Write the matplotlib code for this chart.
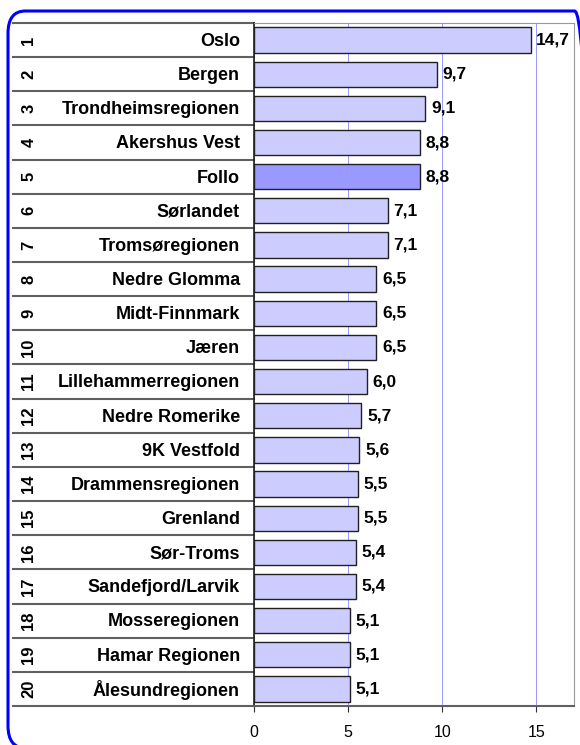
import matplotlib.pyplot as plt
from matplotlib.patches import FancyBboxPatch
from matplotlib.transforms import blended_transform_factory

plt.rcParams['font.family'] = ['Liberation Sans', 'DejaVu Sans']

ranks = [str(i) for i in range(1, 21)]
regions = ["Oslo", "Bergen", "Trondheimsregionen", "Akershus Vest", "Follo",
           "Sørlandet", "Tromsøregionen", "Nedre Glomma", "Midt-Finnmark", "Jæren",
           "Lillehammerregionen", "Nedre Romerike", "9K Vestfold", "Drammensregionen",
           "Grenland", "Sør-Troms", "Sandefjord/Larvik", "Mosseregionen",
           "Hamar Regionen", "Ålesundregionen"]
values = [14.7, 9.7, 9.1, 8.8, 8.8, 7.1, 7.1, 6.5, 6.5, 6.5,
          6.0, 5.7, 5.6, 5.5, 5.5, 5.4, 5.4, 5.1, 5.1, 5.1]
highlight = "Follo"
xticks = [0, 5, 10, 15]

W, H = 580, 745
fig = plt.figure(figsize=(W / 100, H / 100), dpi=100)

# rounded blue frame, right and bottom edges just outside the picture
border = FancyBboxPatch((8 / W, -3 / H), 584 / W, (H - 8) / H,
                        boxstyle="round,pad=0,rounding_size=0.03",
                        transform=fig.transFigure, fill=False,
                        edgecolor="#0000FF", linewidth=2.2, clip_on=False)
fig.patches.append(border)

ax = fig.add_axes([254 / W, 1 - 706 / H, 320 / W, 683 / H])
ys = list(range(len(values)))
colors = ["#9999FF" if r == highlight else "#CCCCFF" for r in regions]
ax.barh(ys, values, height=0.74, color=colors, edgecolor="#202020",
        linewidth=1.0, zorder=3)
for y, v in zip(ys, values):
    ax.text(v + 0.3, y, f"{v:.1f}".replace(".", ","), va="center", ha="left",
            fontsize=12.5, fontweight="bold", zorder=4)

ax.set_xlim(0, 17)
ax.set_ylim(len(values) - 0.5, -0.5)
ax.set_xticks(xticks)
ax.set_xticklabels([str(t) for t in xticks], fontsize=11.5)
ax.set_yticks([])
ax.tick_params(axis="x", length=4.5, color="#303030", pad=9)
ax.grid(axis="x", color="#9999FF", linewidth=0.7, zorder=0)
for s in ["top", "right"]:
    ax.spines[s].set_color("#999999")
ax.spines["bottom"].set_color("#606060")
ax.spines["bottom"].set_linewidth(1.5)
ax.spines["left"].set_color("#202020")
ax.spines["left"].set_linewidth(1.2)

# table on the left: rank and region name per row
tr = blended_transform_factory(fig.transFigure, ax.transData)
for y, rank, name in zip(ys, ranks, regions):
    ax.text(29 / W, y, rank, rotation=90, ha="center", va="center",
            fontsize=12, fontweight="bold", transform=tr)
    ax.text(240 / W, y + 0.04, name, ha="right", va="center",
            fontsize=13, fontweight="bold", transform=tr)
for b in [y - 0.5 for y in ys] + [len(values) - 0.5]:
    ax.plot([13 / W, 254 / W], [b, b], color="#606060", linewidth=1.5,
            transform=tr, clip_on=False)

fig.savefig("out.png", dpi=100)
